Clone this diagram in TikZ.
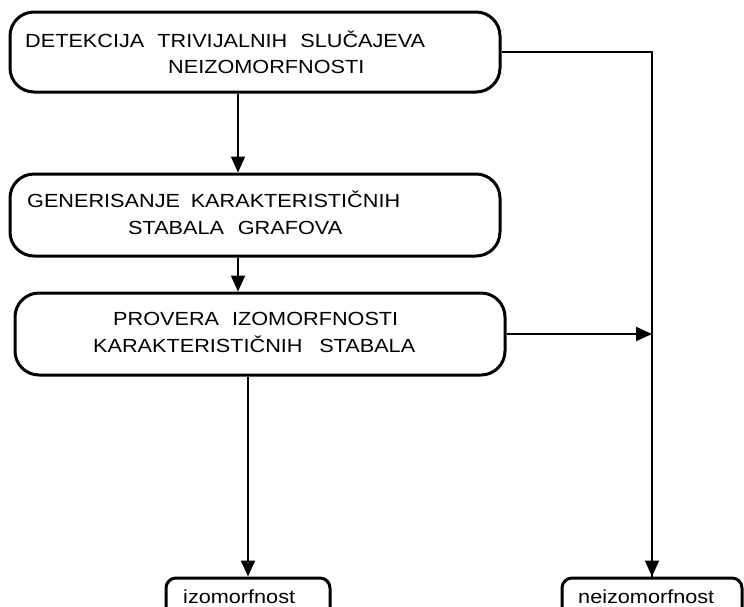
\documentclass[tikz,border=0pt]{standalone}
\usepackage{fontspec}
\setmainfont{Liberation Sans}
\newfontfamily\lbl[FakeStretch=1.14]{Liberation Sans}
\usetikzlibrary{arrows.meta}
\tikzset{
  box/.style={draw, line width=3pt, rounded corners=24pt, inner sep=0pt},
  smallbox/.style={draw, line width=3pt, rounded corners=10pt, inner sep=0pt},
  txt/.style={anchor=base west, inner sep=0pt, font=\lbl\fontsize{19}{22}\selectfont},
  conn/.style={line width=2pt},
  arr/.style={line width=2pt, -{Triangle[length=16pt,width=14pt]}}
}
\newcommand{\fitline}[2]{\makebox[#1][s]{#2}}
\begin{document}
\begin{tikzpicture}[x=1pt,y=-1pt]
\useasboundingbox (0,0) rectangle (744,606);
\clip (0,0) rectangle (744,606);
% boxes
\node[box, minimum width=490pt, minimum height=80pt] (b1) at (255,52) {};
\node[box, minimum width=490pt, minimum height=82pt] (b2) at (255,215) {};
\node[box, minimum width=490pt, minimum height=82pt] (b3) at (260,334) {};
\node[smallbox, minimum width=164pt, minimum height=50pt] (iz) at (248,603) {};
\node[smallbox, minimum width=180pt, minimum height=50pt] (neiz) at (652,603) {};
% texts
\node[txt] (t1a) at (25,47) {\fitline{400pt}{DETEKCIJA TRIVIJALNIH SLUČAJEVA}};
\node[txt] (t1b) at (168,73) {NEIZOMORFNOSTI};
\node[txt] (t2a) at (27,207) {\fitline{373pt}{GENERISANJE KARAKTERISTIČNIH}};
\node[txt] (t2b) at (128,234) {\fitline{214pt}{STABALA GRAFOVA}};
\node[txt] (t3a) at (113,325) {\fitline{285pt}{PROVERA IZOMORFNOSTI}};
\node[txt] (t3b) at (93,352) {\fitline{322pt}{KARAKTERISTIČNIH STABALA}};
\node[txt] (t4) at (183,603) {izomorfnost};
\node[txt] (t5) at (578,603) {neizomorfnost};
% connectors
\coordinate (c1) at (238,0);
\draw[arr] (c1 |- b1.south) -- (c1 |- b2.north);
\draw[arr] (c1 |- b2.south) -- (c1 |- b3.north);
\draw[arr] (iz.north |- b3.south) -- (iz.north);
\draw[conn] (b1.east) -| (neiz.north);
\draw[arr] (neiz.north |- b1.east) -- (neiz.north);
\draw[arr] (b3.east) -- (b3.east -| neiz.north);
\end{tikzpicture}
\end{document}
